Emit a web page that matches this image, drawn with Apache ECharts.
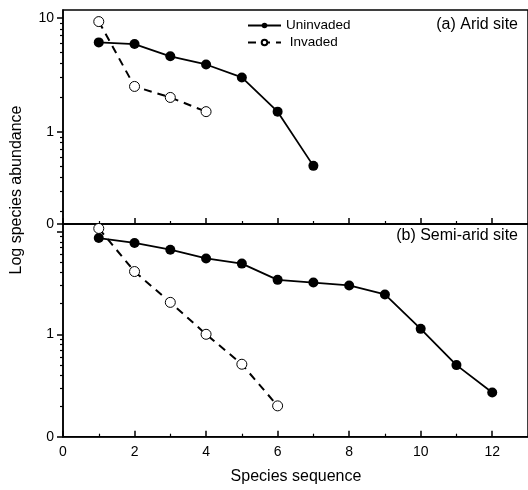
<!DOCTYPE html>
<html><head><meta charset="utf-8">
<script src="https://cdn.jsdelivr.net/npm/echarts@6/dist/echarts.min.js"></script>
<style>html,body{margin:0;padding:0;background:#fff}#c{width:528px;height:490px}</style>
</head><body><div id="c"></div>
<script>
// ---- data ----
const aridSeqUninv = [1, 2, 3, 4, 5, 6, 7];
const aridUninvaded = [6.1, 5.9, 4.6, 3.9, 3.0, 1.5, 0.5];
const aridSeqInv = [1, 2, 3, 4];
const aridInvaded = [9.3, 2.5, 2.0, 1.5];

const semiSeqUninv = [1, 2, 3, 4, 5, 6, 7, 8, 9, 10, 11, 12];
const semiUninvaded = [8.7, 7.8, 6.7, 5.5, 4.9, 3.4, 3.2, 3.0, 2.45, 1.13, 0.5, 0.27];
const semiSeqInv = [1, 2, 3, 4, 5, 6];
const semiInvaded = [10.8, 4.1, 2.05, 1.0, 0.51, 0.2];

const xMajorTicks = [0, 2, 4, 6, 8, 10, 12];
const xMinorTicks = [1, 3, 5, 7, 9, 11, 13];
const xTickLabels = ['0', '2', '4', '6', '8', '10', '12'];

const aridYRange = [0.154, 11.76];
const semiYRange = [0.1, 11.94];
const aridYTicks = [0.155, 1, 10];
const aridYTickLabels = ['0', '1', '10'];
const semiYTicks = [0.1, 1, 10];
const semiYTickLabels = ['0', '1', ''];
const yMinorTicks = [0.2, 0.3, 0.4, 0.5, 0.6, 0.7, 0.8, 0.9, 2, 3, 4, 5, 6, 7, 8, 9];

const legendNames = ['Uninvaded', 'Invaded'];
const panelTitles = ['(a) Arid site', '(b) Semi-arid site'];
const xTitle = 'Species sequence';
const yTitle = 'Log species abundance';

// ---- build ----
const FONT = '"Liberation Sans", Arial, sans-serif';
const pairs = (xs, ys) => xs.map((x, i) => [x, ys[i]]);
const lookup = (vals, texts) => v => {
  for (let i = 0; i < vals.length; i++) if (Math.abs(v - vals[i]) <= 0.02 * Math.abs(vals[i]) + 1e-9) return texts[i];
  return '';
};
const MINOR = '#000';

function xAxes(gridIndex, withLabels) {
  return [{
    gridIndex, type: 'value', min: 0, max: 13, position: 'bottom',
    axisLine: { onZero: false, lineStyle: { color: '#000', width: 1.5 } },
    axisTick: { show: true, inside: true, length: 6, customValues: xMajorTicks, lineStyle: { color: '#000', width: 1.5 } },
    axisLabel: withLabels ? { show: true, customValues: xMajorTicks, formatter: lookup(xMajorTicks, xTickLabels), color: '#000', fontSize: 14, fontFamily: FONT, margin: 8 } : { show: false },
    splitLine: { show: false }
  }, {
    gridIndex, type: 'value', min: 0, max: 13, position: 'bottom',
    axisLine: { show: false, onZero: false },
    axisTick: { show: true, inside: true, length: 3, customValues: xMinorTicks, lineStyle: { color: MINOR, width: 1.2 } },
    axisLabel: { show: false },
    splitLine: { show: false }
  }];
}
function yAxes(gridIndex, range, ticks, labels) {
  return [{
    gridIndex, type: 'log', logBase: 10, min: range[0], max: range[1], position: 'left',
    axisLine: { onZero: false, lineStyle: { color: '#000', width: 1.5 } },
    axisTick: { show: true, inside: false, length: 6, customValues: ticks, lineStyle: { color: '#000', width: 1.5 } },
    axisLabel: { show: true, customValues: ticks, formatter: lookup(ticks, labels), color: '#000', fontSize: 14, fontFamily: FONT, margin: 9 },
    splitLine: { show: false }
  }, {
    gridIndex, type: 'log', logBase: 10, min: range[0], max: range[1], position: 'left',
    axisLine: { show: false, onZero: false },
    axisTick: { show: true, inside: false, length: 3, customValues: yMinorTicks, lineStyle: { color: MINOR, width: 1.2 } },
    axisLabel: { show: false },
    splitLine: { show: false }
  }];
}

const uninvStyle = {
  type: 'line', symbol: 'circle', symbolSize: 10,
  itemStyle: { color: '#000' },
  lineStyle: { color: '#000', width: 1.8 }, z: 3
};
const invStyle = {
  type: 'line', symbol: 'circle', symbolSize: 10,
  itemStyle: { color: '#fff', borderColor: '#000', borderWidth: 1 },
  lineStyle: { color: '#000', width: 2, type: [8, 6] }, z: 4
};

const option = {
  animation: false,
  backgroundColor: '#fff',
  grid: [
    { left: 63, top: 10, width: 466, height: 214, show: true, borderColor: '#000', borderWidth: 1.5, backgroundColor: 'transparent' },
    { left: 63, top: 224, width: 466, height: 212.7, show: true, borderColor: '#000', borderWidth: 1.5, backgroundColor: 'transparent' }
  ],
  xAxis: [...xAxes(0, false), ...xAxes(1, true)],
  yAxis: [...yAxes(0, aridYRange, aridYTicks, aridYTickLabels), ...yAxes(1, semiYRange, semiYTicks, semiYTickLabels)],
  legend: {
    data: legendNames, orient: 'vertical', left: 247, top: 18, padding: 0,
    itemWidth: 33, itemHeight: 7, itemGap: 2,
    formatter: n => n === 'Invaded' ? ' ' + n : n,
    textStyle: { fontSize: 13.5, lineHeight: 15, fontFamily: FONT, color: '#000' }
  },
  graphic: [
    { type: 'text', right: 10, top: 17, style: { text: panelTitles[0], font: '16px ' + FONT, fill: '#000' } },
    { type: 'text', right: 10, top: 228, style: { text: panelTitles[1], font: '16px ' + FONT, fill: '#000' } },
    { type: 'text', x: 296, y: 477, style: { text: xTitle, font: '16px ' + FONT, fill: '#000', align: 'center', verticalAlign: 'middle' } },
    { type: 'text', x: 16.5, y: 190, rotation: Math.PI / 2, style: { text: yTitle, font: '16px ' + FONT, fill: '#000', align: 'center', verticalAlign: 'middle' } }
  ],
  series: [
    Object.assign({ name: legendNames[0], xAxisIndex: 0, yAxisIndex: 0, data: pairs(aridSeqUninv, aridUninvaded) }, uninvStyle),
    Object.assign({ name: legendNames[1], xAxisIndex: 0, yAxisIndex: 0, data: pairs(aridSeqInv, aridInvaded) }, invStyle),
    Object.assign({ name: legendNames[0], xAxisIndex: 2, yAxisIndex: 2, data: pairs(semiSeqUninv, semiUninvaded) }, uninvStyle),
    Object.assign({ name: legendNames[1], xAxisIndex: 2, yAxisIndex: 2, data: pairs(semiSeqInv, semiInvaded) }, invStyle)
  ]
};
const chart = echarts.init(document.getElementById('c'), null, { renderer: 'canvas' });
chart.setOption(option);
</script></body></html>
